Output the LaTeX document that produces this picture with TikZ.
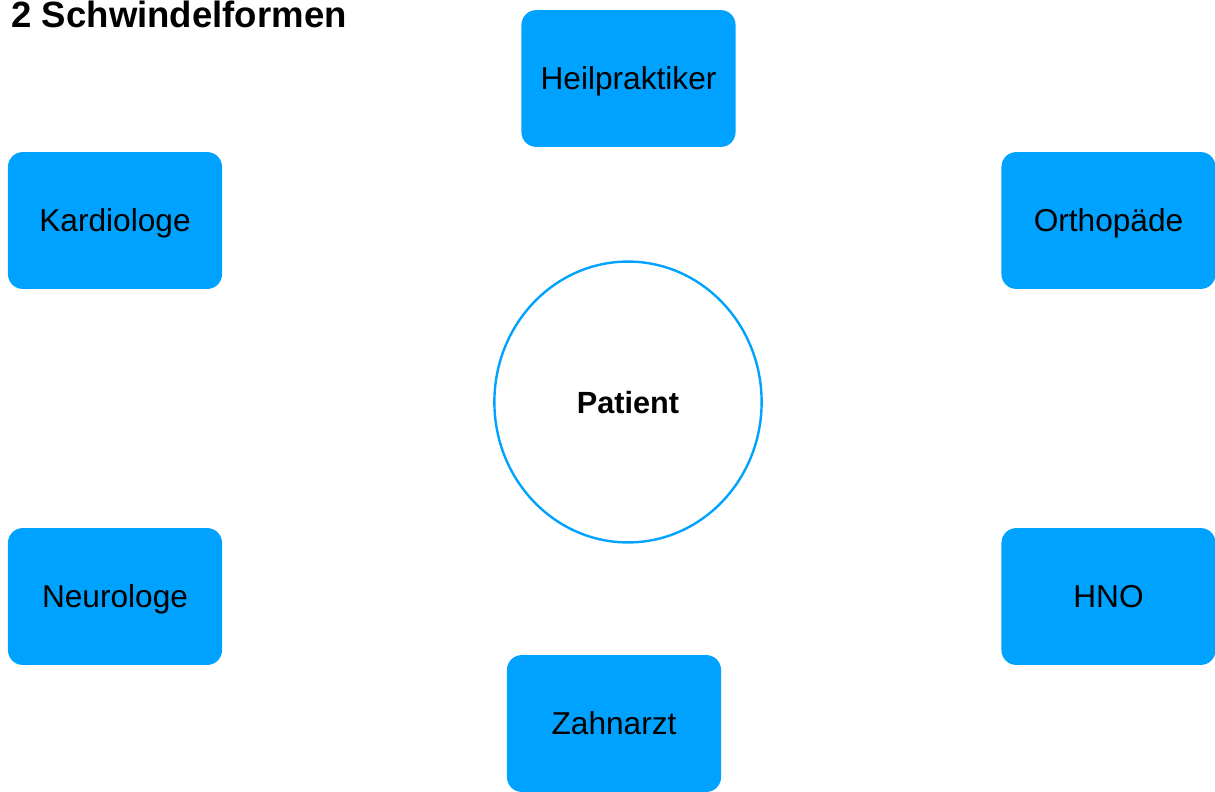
\documentclass[tikz,border=0pt]{standalone}
\usepackage{fontspec}
\setmainfont{Liberation Sans}
\definecolor{skyblue}{HTML}{00A2FF}
\usetikzlibrary{shapes.geometric,positioning}

\begin{document}
\begin{tikzpicture}[
  x=0.025cm, y=-0.025cm,
  doctor/.style={rectangle, rounded corners=10.5pt, fill=skyblue, draw=none, minimum width=5.35cm, minimum height=3.42cm, text height=16pt, text depth=0pt, align=center, font=\fontsize{22.5}{26}\selectfont},
  center/.style={ellipse, draw=skyblue, line width=1.7pt, fill=white, minimum width=6.68cm, minimum height=7.02cm, text height=15.7pt, text depth=0pt, font=\fontsize{21.8}{25}\selectfont\bfseries},
]
\useasboundingbox (0,0) rectangle (1215,791);
% title at the top edge
\node[anchor=base east, inner sep=0pt, font=\fontsize{26}{30}\selectfont\bfseries] (title) at (347,27) {2 Schwindelformen};
% patient in the middle
\node[center] (patient) at (628,402) {Patient};
% the doctors around
\node[doctor] (heil) at (628.5,78.5) {Heilpraktiker};
\node[doctor] (kardio) at (115,220.5) {Kardiologe};
\node[doctor] (ortho) at (1108.5,220.5) {Orthopäde};
\node[doctor] (neuro) at (115,596.5) {Neurologe};
\node[doctor] (hno) at (1108.5,596.5) {HNO};
\node[doctor] (zahn) at (614,723.5) {Zahnarzt};
\end{tikzpicture}
\end{document}
